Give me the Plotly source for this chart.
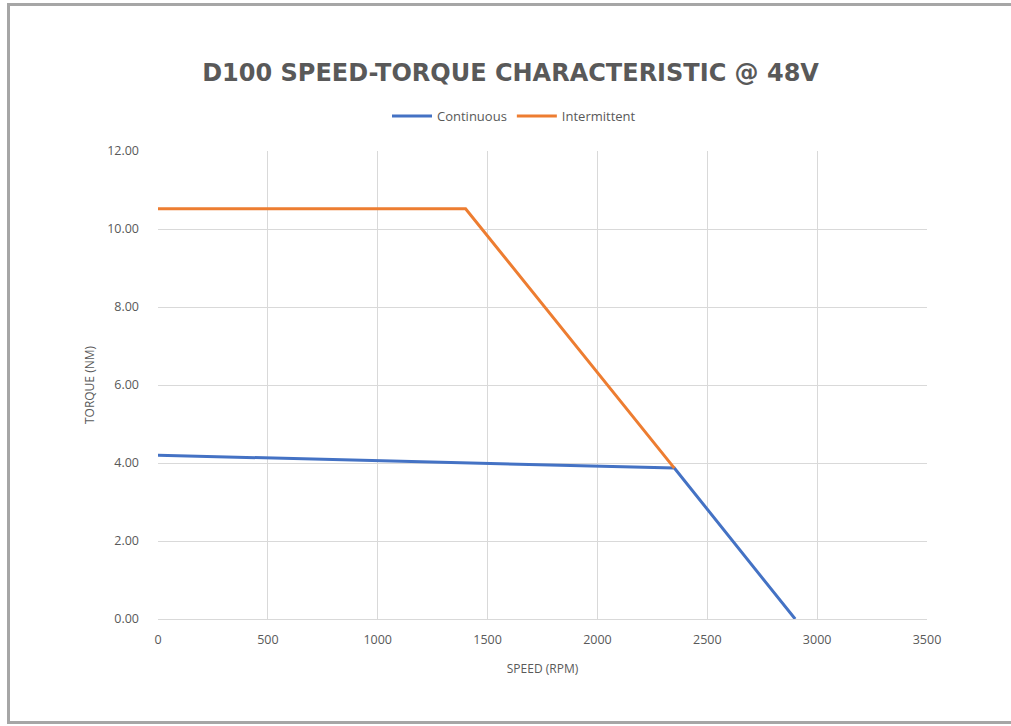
import plotly.graph_objects as go

# Data
cont_speed = [0, 2350, 2900]
cont_torque = [4.20, 3.87, 0.0]
inter_speed = [0, 1400, 2350]
inter_torque = [10.52, 10.52, 3.87]

x_ticks = [0, 500, 1000, 1500, 2000, 2500, 3000, 3500]
y_ticks = [0, 2, 4, 6, 8, 10, 12]
y_tick_labels = ["0.00", "2.00", "4.00", "6.00", "8.00", "10.00", "12.00"]

W, H = 1011, 726
L, R, T, B = 158, 84, 151, 107
pw, ph = W - L - R, H - T - B

fig = go.Figure()
fig.add_trace(go.Scatter(x=cont_speed, y=cont_torque, mode="lines", name="Continuous",
                         line=dict(color="#4472C4", width=3)))
fig.add_trace(go.Scatter(x=inter_speed, y=inter_torque, mode="lines", name="Intermittent",
                         line=dict(color="#ED7D31", width=3)))

font_fam = "Open Sans, Liberation Sans, sans-serif"

def px_x(p):
    return (p - L) / pw

def px_y(p):
    return 1 - (p - T) / ph

fig.update_layout(
    width=W, height=H,
    margin=dict(l=L, r=R, t=T, b=B),
    paper_bgcolor="white", plot_bgcolor="white",
    font=dict(family=font_fam, color="#595959", size=12),
    title=dict(text="<b>D100 SPEED-TORQUE CHARACTERISTIC @ 48V</b>",
               x=0.505, xanchor="center", y=1 - 73 / H, yanchor="middle",
               font=dict(size=24, color="#595959", family="DejaVu Sans, sans-serif")),
    legend=dict(orientation="h", x=px_x(514), xanchor="center", y=px_y(116), yanchor="middle",
                font=dict(size=13, color="#595959"), itemwidth=40, bgcolor="rgba(0,0,0,0)"),
    xaxis=dict(range=[0, 3500], tickvals=x_ticks, showgrid=True, gridcolor="#D9D9D9",
               zeroline=False, showline=True, linecolor="#D9D9D9", ticks="",
               ticklabelstandoff=9, tickfont=dict(size=12.5, color="#595959"),
               title=dict(text="SPEED (RPM)", font=dict(size=12, color="#595959"), standoff=17)),
    yaxis=dict(range=[0, 12], tickvals=y_ticks, ticktext=y_tick_labels, showgrid=True,
               gridcolor="#D9D9D9", zeroline=False, showline=False, ticks="",
               ticklabelstandoff=18, tickfont=dict(size=12.5, color="#595959"),
               title=dict(text="TORQUE (NM)", font=dict(size=12, color="#595959"), standoff=9)),
    shapes=[
        dict(type="line", xref="paper", yref="paper", x0=px_x(8.5), x1=px_x(8.5),
             y0=px_y(4.5), y1=px_y(722.5), line=dict(color="#A6A6A6", width=3)),
        dict(type="line", xref="paper", yref="paper", x0=px_x(7), x1=px_x(1011),
             y0=px_y(4.5), y1=px_y(4.5), line=dict(color="#A6A6A6", width=3)),
        dict(type="line", xref="paper", yref="paper", x0=px_x(7), x1=px_x(1011),
             y0=px_y(722.5), y1=px_y(722.5), line=dict(color="#A6A6A6", width=3)),
    ],
)

fig.write_html("out.html", config={"displayModeBar": False})

# remove default page margin so the figure sits at the window origin
with open("out.html", "r", encoding="utf-8") as f:
    html = f.read()
html = html.replace("<body>", '<body style="margin:0;overflow:hidden">', 1)
with open("out.html", "w", encoding="utf-8") as f:
    f.write(html)
